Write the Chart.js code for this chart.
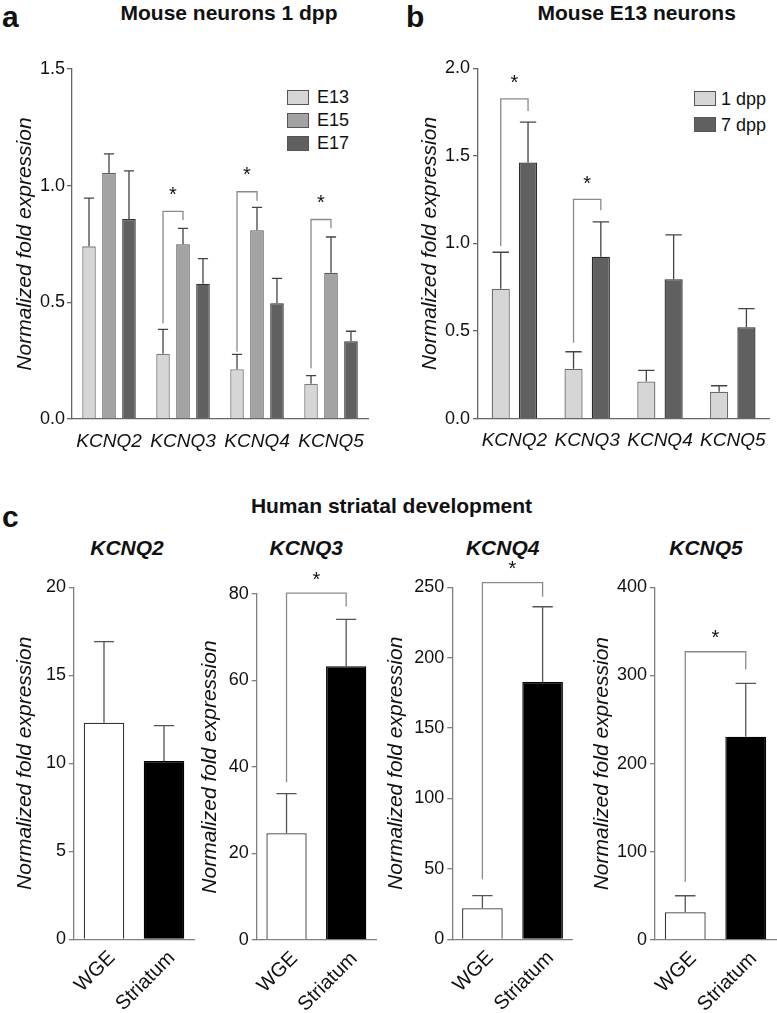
<!DOCTYPE html>
<html><head><meta charset="utf-8">
<script src="https://cdn.jsdelivr.net/npm/chart.js@4"></script>
<style>
html,body{margin:0;padding:0;background:#fff;}
body{width:777px;height:1013px;position:relative;overflow:hidden;font-family:'Liberation Sans',Arial,sans-serif;color:#111;}
canvas{position:absolute;}
.lt{position:absolute;font-weight:bold;font-size:30px;line-height:30px;}
.t{position:absolute;font-weight:bold;font-size:21px;line-height:21px;white-space:nowrap;text-align:center;width:400px;}
.st{position:absolute;font-weight:bold;font-style:italic;font-size:21px;line-height:21px;white-space:nowrap;text-align:center;width:120px;}
.lg{position:absolute;display:flex;align-items:center;height:20px;font-size:18px;line-height:20px;white-space:nowrap;}
.bx{display:inline-block;width:20px;height:13px;border:1px solid #555;}
</style></head><body>
<div class="lt" style="left:2px;top:1.6px">a</div>
<div class="lt" style="left:406px;top:1.6px">b</div>
<div class="lt" style="left:2px;top:501.6px">c</div>
<div class="t" style="left:29px;top:1.5px">Mouse neurons 1 dpp</div>
<div class="t" style="left:436.7px;top:2.2px">Mouse E13 neurons</div>
<div class="t" style="left:191.5px;top:495.2px">Human striatal development</div>
<div class="st" style="left:67px;top:537.2px">KCNQ2</div>
<div class="st" style="left:246.3px;top:537.2px">KCNQ3</div>
<div class="st" style="left:442.7px;top:537.2px">KCNQ4</div>
<div class="st" style="left:646px;top:537.2px">KCNQ5</div>

<div class="lg" style="left:287px;top:87px"><span class="bx" style="background:#d6d6d6;margin-right:8px"></span><span>E13</span></div>
<div class="lg" style="left:287px;top:110px"><span class="bx" style="background:#a3a3a3;margin-right:8px"></span><span>E15</span></div>
<div class="lg" style="left:287px;top:133px"><span class="bx" style="background:#606060;margin-right:8px"></span><span>E17</span></div>
<div class="lg" style="left:694px;top:88.5px"><span class="bx" style="background:#d6d6d6;margin-right:5px"></span><span>1 dpp</span></div>
<div class="lg" style="left:694px;top:114.5px"><span class="bx" style="background:#606060;margin-right:5px"></span><span>7 dpp</span></div>

<canvas id="ca" width="380" height="440" style="left:0px;top:40px"></canvas>
<canvas id="cb" width="387" height="440" style="left:390px;top:40px"></canvas>
<canvas id="c2" width="200" height="453" style="left:0px;top:560px"></canvas>
<canvas id="c3" width="185" height="453" style="left:195px;top:560px"></canvas>
<canvas id="c4" width="197" height="453" style="left:380px;top:560px"></canvas>
<canvas id="c5" width="192" height="453" style="left:585px;top:560px"></canvas>
<script>
// ---------- data ----------
const genes = ['KCNQ2','KCNQ3','KCNQ4','KCNQ5'];
// Panel a: Mouse neurons 1 dpp
const aE13 = [0.740, 0.280, 0.213, 0.151];
const aE13err = [0.207, 0.104, 0.064, 0.035];
const aE15 = [1.054, 0.749, 0.809, 0.627];
const aE15err = [0.082, 0.068, 0.098, 0.153];
const aE17 = [0.857, 0.580, 0.496, 0.333];
const aE17err = [0.206, 0.107, 0.107, 0.043];
// significance brackets (gene index, bracket level, left leg end, right leg end)
const aSig = [[1, 0.89, 0.41, 0.853], [2, 0.974, 0.288, 0.935], [3, 0.855, 0.217, 0.818]];
// Panel b: Mouse E13 neurons
const b1dpp = [0.742, 0.285, 0.213, 0.154];
const b1dppErr = [0.208, 0.097, 0.063, 0.034];
const b7dpp = [1.463, 0.925, 0.796, 0.522];
const b7dppErr = [0.230, 0.199, 0.253, 0.106];
const bSig = [[0, 1.825, 0.986, 1.756], [1, 1.252, 0.434, 1.19]];
// Panel c: Human striatal development
const cGroups = ['WGE','Striatum'];
const cK2 = [12.31, 10.13], cK2err = [4.60, 2.01];
const cK3 = [24.67, 63.28], cK3err = [9.16, 10.87];
const cK4 = [22.0, 182.7], cK4err = [9.0, 53.5];
const cK5 = [31.4, 230.5], cK5err = [18.8, 60.5];
const cK3sig = [80.2, 36.5, 77.1];
const cK4sig = [253.3, 42.6, 243.3];
const cK5sig = [326.9, 66.1, 306.9];

// ---------- drawing ----------
Chart.defaults.font.family = "'Liberation Sans', Arial, sans-serif";
Chart.defaults.color = '#111';

const errSig = {
  id: 'errSig',
  afterDatasetsDraw(chart, args, opts) {
    const ctx = chart.ctx, ys = chart.scales.y;
    ctx.save();
    ctx.lineWidth = opts.lw;
    chart.data.datasets.forEach((ds, i) => {
      const meta = chart.getDatasetMeta(i);
      meta.data.forEach((el, j) => {
        const yt = ys.getPixelForValue(ds.data[j] + ds.err[j]);
        const w = el.width * opts.cap;
        ctx.strokeStyle = opts.errColor;
        ctx.beginPath();
        ctx.moveTo(el.x, el.y); ctx.lineTo(el.x, yt);
        ctx.moveTo(el.x - w / 2, yt); ctx.lineTo(el.x + w / 2, yt);
        ctx.stroke();
      });
    });
    (opts.sig || []).forEach(s => {
      const x1 = chart.getDatasetMeta(s.d1).data[s.i1].x;
      const x2 = chart.getDatasetMeta(s.d2).data[s.i2].x;
      const yT = ys.getPixelForValue(s.top), yL = ys.getPixelForValue(s.left), yR = ys.getPixelForValue(s.right);
      ctx.strokeStyle = opts.sigColor;
      ctx.beginPath();
      ctx.moveTo(x1, yL); ctx.lineTo(x1, yT); ctx.lineTo(x2, yT); ctx.lineTo(x2, yR);
      ctx.stroke();
      ctx.fillStyle = '#111';
      ctx.font = "20px 'Liberation Sans', Arial, sans-serif";
      ctx.textAlign = 'center'; ctx.textBaseline = 'middle';
      ctx.fillText('*', (x1 + x2) / 2, yT - opts.starGap);
    });
    ctx.restore();
  }
};

function yScale(max, step, dec, width, titlePad, tickPad, axisColor) {
  return {
    min: 0, max: max,
    ticks: { stepSize: step, color: '#111', font: { size: 18 }, padding: tickPad,
      callback: v => dec ? v.toFixed(dec) : String(v) },
    grid: { display: true, drawOnChartArea: false, drawTicks: true, tickLength: 5, color: axisColor, lineWidth: 1.3 },
    border: { display: true, color: axisColor, width: 1.3 },
    title: { display: true, text: 'Normalized fold expression', color: '#111',
      font: { size: 21, style: 'italic' }, padding: { top: titlePad, bottom: 0 } },
    afterFit(s) { s.width = width; }
  };
}
function xScale(height, rot, pad, italic, size, offset, axisColor) {
  return {
    ticks: { color: '#111', font: { size: size, style: italic ? 'italic' : 'normal' }, padding: pad,
      autoSkip: false, minRotation: rot, maxRotation: rot, labelOffset: offset },
    grid: { display: false, drawTicks: false },
    border: { display: true, color: axisColor, width: 1.3 },
    afterFit(s) { s.height = height; }
  };
}
function baseOpts(pad, scales, plug) {
  return {
    responsive: false, animation: false, devicePixelRatio: 1,
    layout: { padding: pad },
    plugins: { legend: { display: false }, tooltip: { enabled: false }, errSig: plug },
    scales: scales
  };
}

// Panel a
new Chart(document.getElementById('ca'), {
  type: 'bar',
  data: { labels: genes, datasets: [
    { data: aE13, err: aE13err, backgroundColor: '#d6d6d6', borderColor: '#7a7a7a', borderWidth: 1.3 },
    { data: aE15, err: aE15err, backgroundColor: '#a3a3a3', borderColor: '#5a5a5a', borderWidth: 1.3 },
    { data: aE17, err: aE17err, backgroundColor: '#606060', borderColor: '#333', borderWidth: 1.3 }
  ].map(d => Object.assign(d, { categoryPercentage: 0.81, barPercentage: 0.68 })) },
  options: baseOpts({ top: 29, right: 12, left: 0, bottom: 0 },
    { x: xScale(61, 0, 11, true, 19, 0, '#666'), y: yScale(1.5, 0.5, 1, 72, 12.4, 2, '#666') },
    { lw: 1.3, cap: 0.75, errColor: '#444', sigColor: '#8a8a8a', starGap: 16,
      sig: aSig.map(s => ({ d1: 0, i1: s[0], d2: 1, i2: s[0], top: s[1], left: s[2], right: s[3] })) }),
  plugins: [errSig]
});

// Panel b
new Chart(document.getElementById('cb'), {
  type: 'bar',
  data: { labels: genes, datasets: [
    { data: b1dpp, err: b1dppErr, backgroundColor: '#d6d6d6', borderColor: '#6a6a6a', borderWidth: 1.3 },
    { data: b7dpp, err: b7dppErr, backgroundColor: '#606060', borderColor: '#2a2a2a', borderWidth: 1.3 }
  ].map(d => Object.assign(d, { categoryPercentage: 0.75, barPercentage: 0.665 })) },
  options: baseOpts({ top: 28.3, right: 4, left: 0, bottom: 0 },
    { x: xScale(61.3, 0, 11, true, 19, 0, '#666'), y: yScale(2.0, 0.5, 1, 88, 27.4, 3, '#666') },
    { lw: 1.3, cap: 0.9, errColor: '#444', sigColor: '#8a8a8a', starGap: 15,
      sig: bSig.map(s => ({ d1: 0, i1: s[0], d2: 1, i2: s[0], top: s[1], left: s[2], right: s[3] })) }),
  plugins: [errSig]
});

// Panel c
function cChart(id, vals, errs, max, step, yw, titlePad, pad, xh, sig) {
  new Chart(document.getElementById(id), {
    type: 'bar',
    data: { labels: cGroups, datasets: [
      { data: vals, err: errs, backgroundColor: ['#ffffff', '#000000'], borderColor: ['#333', '#000'],
        borderWidth: 1.3, categoryPercentage: 1, barPercentage: 0.675 }
    ] },
    options: baseOpts(pad,
      { x: xScale(xh, 45, 7, false, 20, 8, '#808080'), y: yScale(max, step, 0, yw, titlePad, 3, '#808080') },
      { lw: 1.3, cap: 0.5, errColor: '#555', sigColor: '#8a8a8a', starGap: 13,
        sig: sig ? [{ d1: 0, i1: 0, d2: 0, i2: 1, top: sig[0], left: sig[1], right: sig[2] }] : [] }),
    plugins: [errSig]
  });
}
cChart('c2', cK2, cK2err, 20, 5, 74, 12.4, { top: 27.3, right: 6, left: 0, bottom: 0 }, 73.7, null);
cChart('c3', cK3, cK3err, 80, 20, 61.7, 2.9, { top: 34, right: 4, left: 0, bottom: 0 }, 73, cK3sig);
cChart('c4', cK4, cK4err, 250, 50, 72.3, 3.4, { top: 27.3, right: 4.3, left: 0, bottom: 0 }, 73.7, cK4sig);
cChart('c5', cK5, cK5err, 400, 100, 70, 4.4, { top: 27.3, right: 1, left: 0, bottom: 0 }, 73, cK5sig);
</script>
</body></html>
